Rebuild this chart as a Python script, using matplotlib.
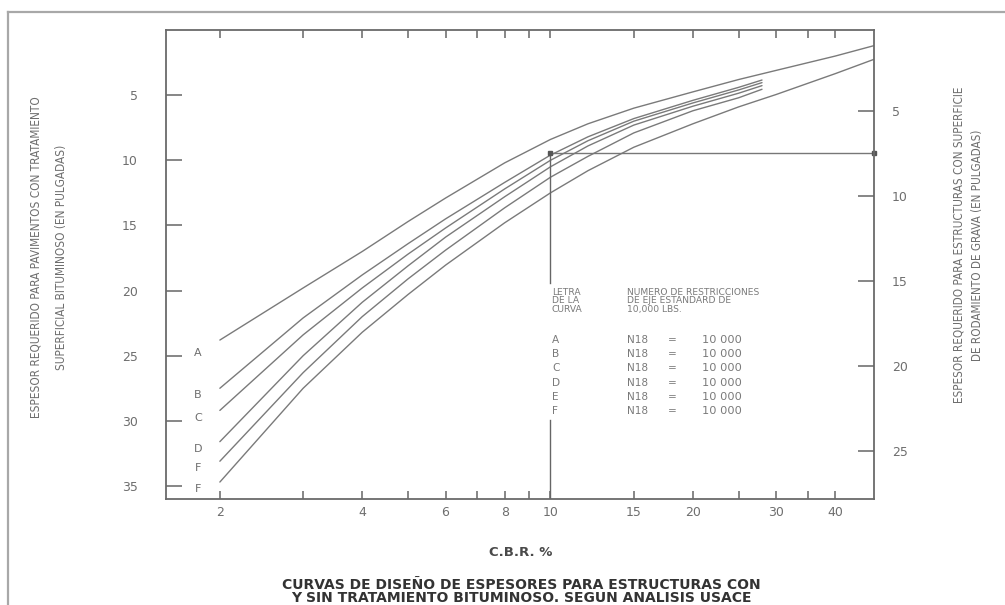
import matplotlib
matplotlib.use("Agg")
import matplotlib.pyplot as plt
from matplotlib import font_manager
from matplotlib.lines import Line2D
from matplotlib.transforms import blended_transform_factory

# ---------------- data ----------------
cbr_A = [2, 3, 4, 5, 6, 8, 10, 12, 15, 20, 25, 30, 40, 48.3]
esp_A = [23.8, 19.8, 17.0, 14.7, 12.9, 10.2, 8.4, 7.2, 6.0, 4.75, 3.8, 3.1, 2.0, 1.2]

cbr_mid = [2, 3, 4, 5, 6, 8, 10, 12, 15, 20, 25, 28]
esp_B = [27.5, 22.1, 18.8, 16.4, 14.5, 11.7, 9.6, 8.2, 6.8, 5.4, 4.4, 3.84]
esp_C = [29.2, 23.4, 19.8, 17.2, 15.2, 12.2, 10.0, 8.5, 7.0, 5.6, 4.6, 4.04]
esp_D = [31.6, 25.0, 20.9, 18.1, 15.9, 12.8, 10.5, 8.9, 7.3, 5.85, 4.85, 4.27]
esp_E = [33.1, 26.3, 22.0, 19.1, 16.9, 13.65, 11.3, 9.7, 7.9, 6.2, 5.2, 4.55]

cbr_F = [2, 3, 4, 5, 6, 8, 10, 12, 15, 20, 25, 30, 40, 48.3]
esp_F = [34.7, 27.5, 23.2, 20.3, 18.05, 14.8, 12.5, 10.8, 9.0, 7.2, 5.9, 4.95, 3.35, 2.25]

curve_letters = ["A", "B", "C", "D", "F", "F"]
curve_letter_pos = [24.8, 28.0, 29.8, 32.2, 33.6, 35.2]

left_ticks = [5, 10, 15, 20, 25, 30, 35]
right_ticks = [5, 10, 15, 20, 25]
x_ticks = [2, 3, 4, 5, 6, 7, 8, 9, 10, 15, 20, 25, 30, 35, 40]
x_labeled = [2, 4, 6, 8, 10, 15, 20, 30, 40]

example_cbr = 10
example_esp = 9.46
x_range = (1.535, 48.3)
left_range = (36.0, 0.0)
right_range = (27.84, 0.25)

legend_letters = ["A", "B", "C", "D", "E", "F"]
legend_n = ["N18"] * 6
legend_val = ["10 000"] * 6
legend_head1 = ["LETRA", "DE LA", "CURVA"]
legend_head2 = ["NUMERO DE RESTRICCIONES", "DE EJE ESTANDARD DE", "10,000 LBS."]

ylabel_left = ["ESPESOR REQUERIDO PARA PAVIMENTOS CON TRATAMIENTO",
               "SUPERFICIAL BITUMINOSO (EN PULGADAS)"]
ylabel_right = ["ESPESOR REQUERIDO PARA ESTRUCTURAS CON SUPERFICIE",
                "DE RODAMIENTO DE GRAVA (EN PULGADAS)"]
xlabel = "C.B.R. %"
title_lines = ["CURVAS DE DISEÑO DE ESPESORES PARA ESTRUCTURAS CON",
               "Y SIN TRATAMIENTO BITUMINOSO. SEGUN ANALISIS USACE"]

# ---------------- styling ----------------
names = {f.name for f in font_manager.fontManager.ttflist}
if "Liberation Sans Narrow" in names:
    narrow = dict(family=["Liberation Sans Narrow", "DejaVu Sans"])
else:
    narrow = dict(family=["DejaVu Sans"], stretch="condensed")

plt.rcParams["font.family"] = ["DejaVu Sans"]
W, H = 1005, 605
fig = plt.figure(figsize=(W / 100, H / 100), dpi=100)
fig.patch.set_facecolor("white")

L, R, T, B = 165.5, 874.0, 30.0, 499.0
ax = fig.add_axes([L / W, 1 - B / H, (R - L) / W, (B - T) / H])
ax.set_xscale("log")
ax.set_xlim(*x_range)
ax.set_ylim(*left_range)

line_col = "#7a7a7a"
txt_col = "#6e6e6e"

for s in ax.spines.values():
    s.set_color("#6a6a6a")
    s.set_linewidth(1.3)

# curves
for x, y in [(cbr_A, esp_A), (cbr_mid, esp_B), (cbr_mid, esp_C),
             (cbr_mid, esp_D), (cbr_mid, esp_E), (cbr_F, esp_F)]:
    ax.plot(x, y, color=line_col, lw=1.0, solid_capstyle="round")

# example construction lines
gap_top, gap_bottom = 19.42, 29.93
ax.plot([example_cbr, example_cbr], [example_esp, gap_top], color="#666", lw=1.0)
ax.plot([example_cbr, example_cbr], [gap_bottom, left_range[0]], color="#666", lw=1.0)
ax.plot([example_cbr, x_range[1]], [example_esp, example_esp], color="#777", lw=1.0)
ax.plot([example_cbr, x_range[1]], [example_esp, example_esp], ls="none",
        marker="s", ms=3, color="#555", clip_on=False)

# x ticks
ax.xaxis.set_major_locator(plt.FixedLocator(x_ticks))
ax.xaxis.set_minor_locator(plt.NullLocator())
ax.xaxis.set_major_formatter(plt.FixedFormatter(
    [str(v) if v in x_labeled else "" for v in x_ticks]))
ax.tick_params(axis="x", which="major", direction="in", length=6, width=1.1,
               color="#666", top=True, labelsize=9, labelcolor=txt_col, pad=5)

# left y ticks
ax.set_yticks(left_ticks)
ax.tick_params(axis="y", which="major", direction="in", length=11.5, width=1.1,
               color="#666", labelsize=9, labelcolor=txt_col, pad=20)
ax.yaxis.set_minor_locator(plt.NullLocator())

# right axis
ax2 = ax.twinx()
ax2.set_ylim(*right_range)
ax2.set_yticks(right_ticks)
ax2.tick_params(axis="y", which="major", direction="in", length=11.5, width=1.1,
                color="#666", labelsize=9, labelcolor=txt_col, pad=13)
for s in ax2.spines.values():
    s.set_visible(False)

# curve letters at left
tr = blended_transform_factory(ax.transAxes, ax.transData)
for lab, yv in zip(curve_letters, curve_letter_pos):
    ax.text(0.046, yv, lab, transform=tr, ha="center", va="center",
            fontsize=8, color=txt_col)

# legend block
lg_fs = 7.6
hd_fs = 6.6
lg_col = "#7a7a7a"
head_y = [20.16, 20.80, 21.44]
for yv, h1, h2 in zip(head_y, legend_head1, legend_head2):
    ax.text(0.5455, yv, h1, transform=tr, ha="left", va="center", fontsize=hd_fs, color=lg_col)
    ax.text(0.6514, yv, h2, transform=tr, ha="left", va="center", fontsize=hd_fs, color=lg_col)
row0, step = 23.8, 1.09
for i, (lt, n, v) in enumerate(zip(legend_letters, legend_n, legend_val)):
    yv = row0 + i * step
    ax.text(0.5455, yv, lt, transform=tr, ha="left", va="center", fontsize=lg_fs, color=lg_col)
    ax.text(0.6514, yv, n, transform=tr, ha="left", va="center", fontsize=lg_fs, color=lg_col)
    ax.text(0.7149, yv, "=", transform=tr, ha="center", va="center", fontsize=lg_fs, color=lg_col)
    ax.text(0.7572, yv, v, transform=tr, ha="left", va="center", fontsize=lg_fs + 0.6, color=lg_col)

# axis labels (figure coords)
def fx(px):
    return px / W

def fy(py):
    return 1 - py / H

fig.text(fx(36), fy(257), ylabel_left[0], rotation=90, ha="center", va="center",
         fontsize=8.5, color=txt_col, **narrow)
fig.text(fx(61), fy(257), ylabel_left[1], rotation=90, ha="center", va="center",
         fontsize=8.5, color=txt_col, **narrow)
fig.text(fx(959), fy(245), ylabel_right[0], rotation=90, ha="center", va="center",
         fontsize=8.4, color=txt_col, **narrow)
fig.text(fx(977), fy(245), ylabel_right[1], rotation=90, ha="center", va="center",
         fontsize=8.4, color=txt_col, **narrow)

fig.text(fx(521), fy(553), xlabel, ha="center", va="center", fontsize=9.5,
         fontweight="bold", color="#4a4a4a")
fig.text(fx(521), fy(585), title_lines[0], ha="center", va="center", fontsize=10,
         fontweight="bold", color="#333333")
fig.text(fx(521), fy(598.5), title_lines[1], ha="center", va="center", fontsize=10,
         fontweight="bold", color="#333333")

# outer scanned-page border
fig.add_artist(Line2D([fx(8), 1], [fy(12), fy(12)], transform=fig.transFigure,
                      color="#a8a8a8", lw=1.6))
fig.add_artist(Line2D([fx(8), fx(8)], [fy(12), 0], transform=fig.transFigure,
                      color="#a8a8a8", lw=1.6))

fig.savefig("out.png", dpi=100, facecolor="white")
